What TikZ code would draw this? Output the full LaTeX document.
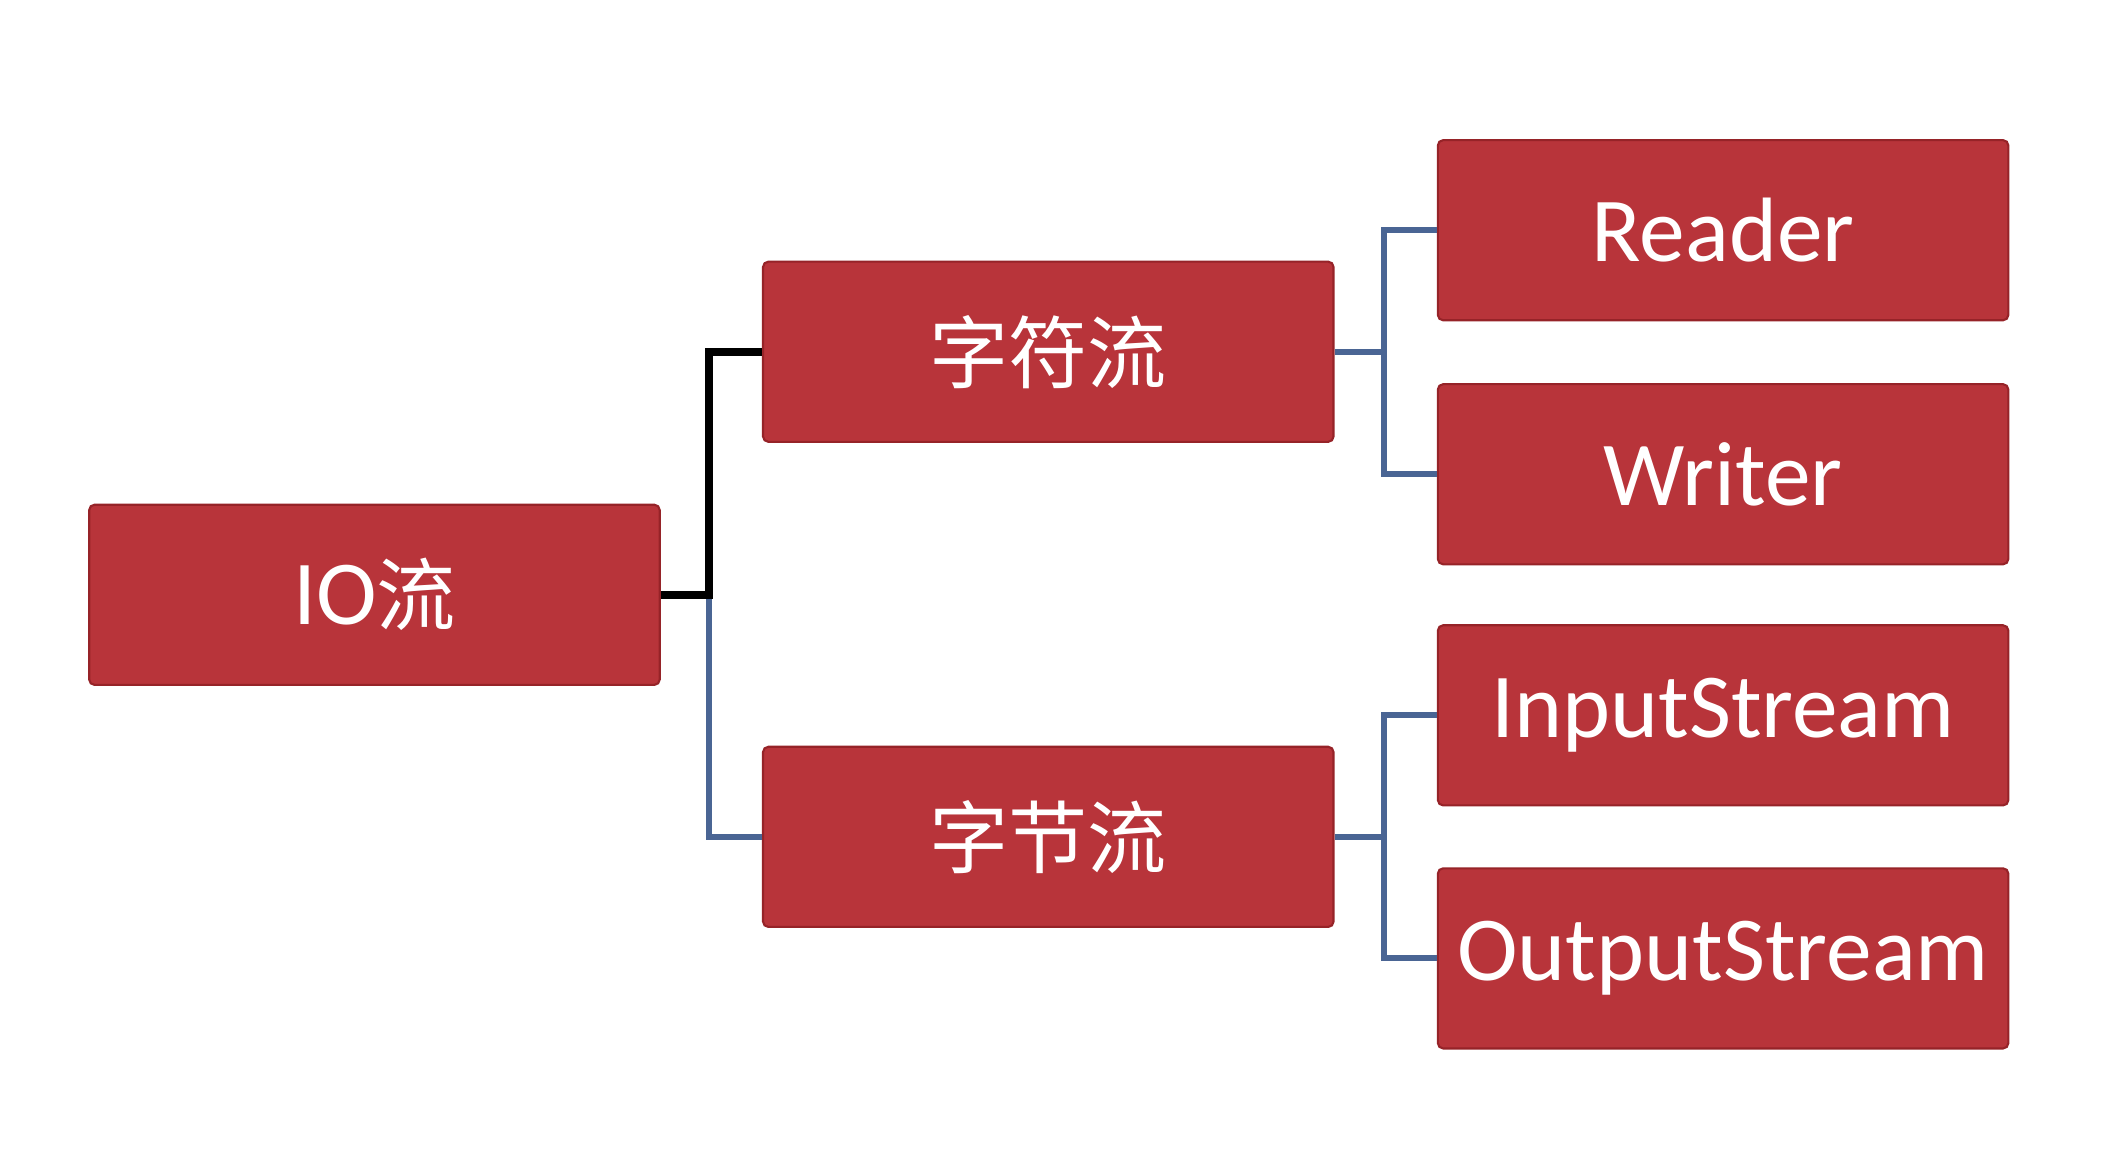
\documentclass[tikz,border=0pt]{standalone}
\usepackage{fontspec}
\setmainfont{Carlito}
\newfontfamily\cjk{Noto Sans CJK SC}
\definecolor{boxred}{RGB}{184,52,58}
\definecolor{boxedge}{RGB}{150,35,40}
\definecolor{linkblue}{RGB}{74,101,148}
\newcommand{\zh}[1]{{\cjk\fontsize{22.5}{27}\selectfont #1}}
\begin{document}
\begin{tikzpicture}[x=0.00988cm,y=-0.00988cm,
  rbox/.style={fill=boxred,draw=boxedge,line width=0.6pt,rounded corners=1.5pt,
    minimum width=5.70cm,minimum height=1.80cm,inner sep=0pt,
    text=white,font=\fontsize{26}{31}\selectfont},
  bluelink/.style={draw=linkblue,line width=1.7pt},
  blacklink/.style={draw=black,line width=2.3pt}]
\useasboundingbox (0,0) rectangle (2133.6,1164);
\node[rbox] (io) at (379,602) {IO\zh{流}};
\node[rbox] (zf) at (1061,356) {\zh{字符流}};
\node[rbox] (zj) at (1061,847) {\zh{字节流}};
\node[rbox] (rd) at (1744,233) {Reader};
\node[rbox] (wr) at (1744,480) {Writer};
\node[rbox] (is) at (1744,724) {InputStream};
\node[rbox] (os) at (1744,970) {OutputStream};
\coordinate (j1) at (718,602);
\coordinate (j2) at (1401,356);
\coordinate (j3) at (1401,847);
\draw[bluelink] (j1) |- (zj.west);
\draw[bluelink] (zf.east) -- (j2);
\draw[bluelink] (rd.west) -| (j2) |- (wr.west);
\draw[bluelink] (zj.east) -- (j3);
\draw[bluelink] (is.west) -| (j3) |- (os.west);
\draw[blacklink,line join=miter] (io.east) -- (j1) |- (zf.west);
\end{tikzpicture}
\end{document}
